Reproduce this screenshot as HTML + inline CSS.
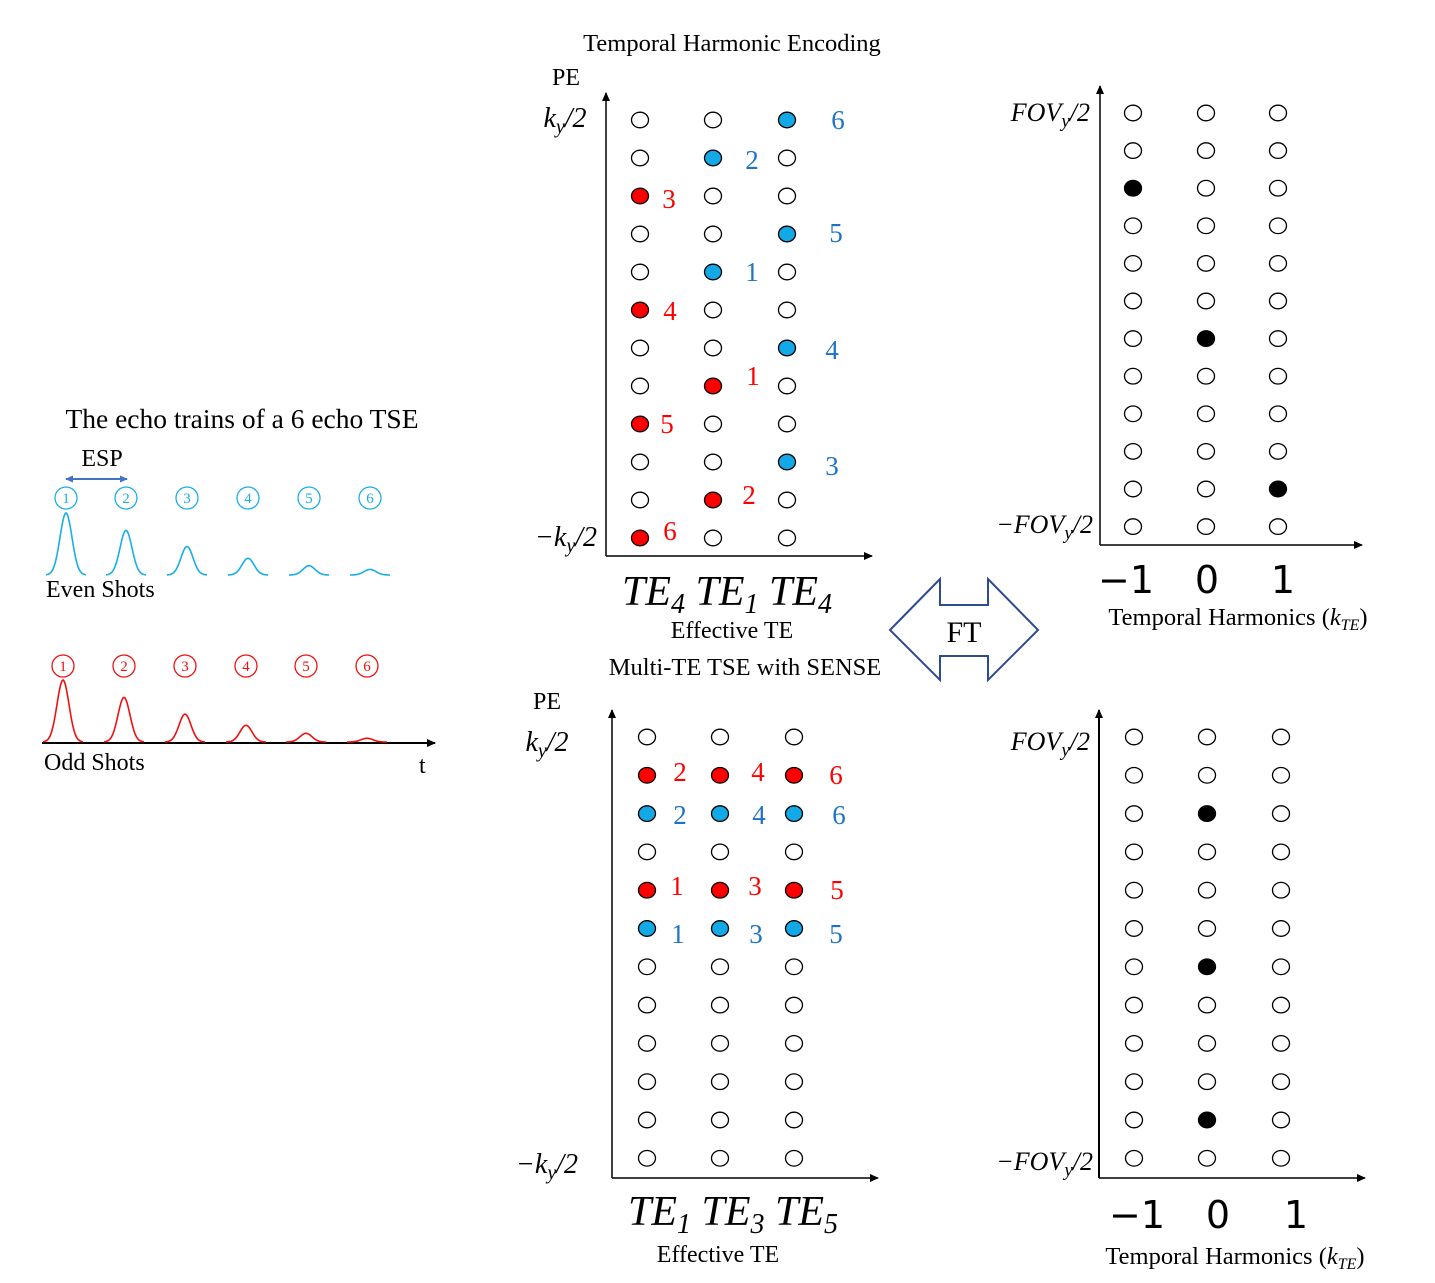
<!DOCTYPE html>
<html><head><meta charset="utf-8"><style>
html,body{margin:0;padding:0;background:#fff;}
svg{display:block;font-family:"Liberation Serif",serif;}
.m{font-family:"Liberation Serif",serif;font-style:italic;}
</style></head><body>
<svg id="s" width="1435" height="1283" viewBox="0 0 1435 1283" xmlns="http://www.w3.org/2000/svg">
<defs><marker id="ah" markerUnits="userSpaceOnUse" markerWidth="9" markerHeight="8" refX="8" refY="4" orient="auto"><path d="M0,0L9,4L0,8z" fill="#000"/></marker>
<marker id="bh" markerUnits="userSpaceOnUse" markerWidth="8" markerHeight="7" refX="7" refY="3.5" orient="auto-start-reverse"><path d="M0,0L8,3.5L0,7z" fill="#4472c4"/></marker></defs>

<text x="242" y="428" font-size="27.5" text-anchor="middle">The echo trains of a 6 echo TSE</text>
<text x="102" y="466" font-size="24" text-anchor="middle">ESP</text>
<line x1="66" y1="479" x2="127" y2="479" stroke="#4472c4" stroke-width="2" marker-start="url(#bh)" marker-end="url(#bh)"/>
<text x="46" y="597" font-size="24">Even Shots</text>
<text x="44" y="770" font-size="24">Odd Shots</text>
<text x="419" y="773" font-size="24">t</text>
<line x1="42" y1="743" x2="435" y2="743" stroke="#000" stroke-width="2" marker-end="url(#ah)"/>

<text x="732" y="51" font-size="24.5" text-anchor="middle">Temporal Harmonic Encoding</text>
<text x="566" y="85" font-size="24" text-anchor="middle">PE</text>
<text x="565" y="127" font-size="28" text-anchor="middle" class="m">k<tspan font-size="20" dy="6">y</tspan><tspan dy="-6">/2</tspan></text>
<text x="566" y="546" font-size="28" text-anchor="middle" class="m">−k<tspan font-size="20" dy="6">y</tspan><tspan dy="-6">/2</tspan></text>
<line x1="606" y1="556" x2="606" y2="93" stroke="#000" stroke-width="1.5" marker-end="url(#ah)"/>
<line x1="606" y1="556" x2="872" y2="556" stroke="#000" stroke-width="1.5" marker-end="url(#ah)"/>
<text x="727" y="605" font-size="42" text-anchor="middle" class="m">TE<tspan font-size="28" dy="8">4</tspan><tspan dy="-8"> TE</tspan><tspan font-size="28" dy="8">1</tspan><tspan dy="-8"> TE</tspan><tspan font-size="28" dy="8">4</tspan></text>
<text x="732" y="638" font-size="24" text-anchor="middle">Effective TE</text>
<text x="745" y="675" font-size="24.5" text-anchor="middle">Multi-TE TSE with SENSE</text>

<text x="547" y="709" font-size="24" text-anchor="middle">PE</text>
<text x="547" y="751" font-size="28" text-anchor="middle" class="m">k<tspan font-size="20" dy="6">y</tspan><tspan dy="-6">/2</tspan></text>
<text x="547" y="1173" font-size="28" text-anchor="middle" class="m">−k<tspan font-size="20" dy="6">y</tspan><tspan dy="-6">/2</tspan></text>
<line x1="612" y1="1178" x2="612" y2="710" stroke="#000" stroke-width="1.5" marker-end="url(#ah)"/>
<line x1="612" y1="1178" x2="878" y2="1178" stroke="#000" stroke-width="1.5" marker-end="url(#ah)"/>
<text x="733" y="1225" font-size="42" text-anchor="middle" class="m">TE<tspan font-size="28" dy="8">1</tspan><tspan dy="-8"> TE</tspan><tspan font-size="28" dy="8">3</tspan><tspan dy="-8"> TE</tspan><tspan font-size="28" dy="8">5</tspan></text>
<text x="718" y="1262" font-size="24" text-anchor="middle">Effective TE</text>

<polygon points="890,630 940,579 940,605 988,605 988,579 1038,630 988,680 988,656 940,656 940,680" fill="#fff" stroke="#2f4b8f" stroke-width="2"/>
<text x="964" y="642" font-size="30" text-anchor="middle">FT</text>

<text x="1090" y="121" font-size="26" text-anchor="end" class="m">FOV<tspan font-size="19" dy="6">y</tspan><tspan dy="-6">/2</tspan></text>
<text x="1093" y="533" font-size="26" text-anchor="end" class="m">−FOV<tspan font-size="19" dy="6">y</tspan><tspan dy="-6">/2</tspan></text>
<line x1="1100" y1="545" x2="1100" y2="86" stroke="#000" stroke-width="1.5" marker-end="url(#ah)"/>
<line x1="1100" y1="545" x2="1362" y2="545" stroke="#000" stroke-width="1.5" marker-end="url(#ah)"/>
<text x="1238" y="625" font-size="24.5" text-anchor="middle">Temporal Harmonics (<tspan class="m">k</tspan><tspan class="m" font-size="16" dy="5">TE</tspan><tspan dy="-5">)</tspan></text>

<text x="1090" y="750" font-size="26" text-anchor="end" class="m">FOV<tspan font-size="19" dy="6">y</tspan><tspan dy="-6">/2</tspan></text>
<text x="1093" y="1170" font-size="26" text-anchor="end" class="m">−FOV<tspan font-size="19" dy="6">y</tspan><tspan dy="-6">/2</tspan></text>
<line x1="1099" y1="1178" x2="1099" y2="710" stroke="#000" stroke-width="2" marker-end="url(#ah)"/>
<line x1="1099" y1="1178" x2="1365" y2="1178" stroke="#000" stroke-width="1.5" marker-end="url(#ah)"/>
<text x="1235" y="1264" font-size="24.5" text-anchor="middle">Temporal Harmonics (<tspan class="m">k</tspan><tspan class="m" font-size="16" dy="5">TE</tspan><tspan dy="-5">)</tspan></text>
</svg>
<script>
const NS='http://www.w3.org/2000/svg';
const svg=document.getElementById('s');
const RED='#ff0000', CY='#12a9e6', BL='#1f73c4';
// echo amplitudes (relative)
const evenAmps=[1.0,0.72,0.46,0.27,0.15,0.09];
const oddAmps=[1.0,0.72,0.45,0.27,0.14,0.06];
const echoNums=[1,2,3,4,5,6];
// top k-space grid: fill codes per column (r=red, c=cyan, ''=empty), rows top->bottom
const topCol0=['','','r','','','r','','','r','','','r'];
const topCol1=['','c','','','c','','','r','','','r',''];
const topCol2=['c','','','c','','','c','','','c','',''];
const topLabels=[['6',838,120,BL],['2',752,160,BL],['5',836,233,BL],['1',752,272,BL],['4',832,350,BL],['3',832,466,BL],['3',669,199,RED],['4',670,311,RED],['1',753,376,RED],['5',667,424,RED],['2',749,495,RED],['6',670,531,RED]];
// bottom grid
const botCol0=['','r','c','','r','c','','','','','',''];
const botCol1=['','r','c','','r','c','','','','','',''];
const botCol2=['','r','c','','r','c','','','','','',''];
const botLabels=[['2',680,772,RED],['4',758,772,RED],['6',836,775,RED],['2',680,815,BL],['4',759,815,BL],['6',839,815,BL],['1',677,886,RED],['3',755,886,RED],['5',837,890,RED],['1',678,934,BL],['3',756,934,BL],['5',836,934,BL]];
// harmonic grids: filled [row, col]
const harmTopFilled=[[2,0],[6,1],[10,2]];
const harmBotFilled=[[2,1],[6,1],[10,1]];
const harmTicks=['−1','0','1'];

function el(t,a,parent){const e=document.createElementNS(NS,t);for(const k in a)e.setAttribute(k,a[k]);(parent||svg).appendChild(e);return e;}

function pulses(xs,base,amps,col,cy,name){
  xs.forEach((x,i)=>{
    const h=62*amps[i];let d='';
    for(let t=-20;t<=20;t+=1){const y=base-h*Math.exp(-(t*t)/(2*6*6));d+=(t==-20?'M':'L')+(x+t)+','+y.toFixed(1);}
    const p=el('path',{d:d,fill:'none',stroke:col,'stroke-width':1.6});
    
    
    const c=el('circle',{cx:x,cy:cy,r:11,fill:'none',stroke:col,'stroke-width':1.3});
    
    
    const tx=el('text',{x:x,y:cy+5,'font-size':15,'text-anchor':'middle',fill:col});
    tx.textContent=echoNums[i];
    
    
  });
}
pulses([66,126,187,248,309,370],575,evenAmps,'#19aee8',498,'even-shot');
pulses([63,124,185,246,306,367],742,oddAmps,'#ee1111',666,'odd-shot');

function grid(cols,xs,y0,dy,name){
  cols.forEach((col,ci)=>col.forEach((f,ri)=>{
    const fill=f==='r'?RED:f==='c'?CY:f==='k'?'#000':'#fff';
    const e=el('ellipse',{cx:xs[ci],cy:y0+ri*dy,rx:8.5,ry:7.8,fill:fill,stroke:'#000','stroke-width':1.3});
    
    
  }));
}
function labels(arr,name){arr.forEach(l=>{const t=el('text',{x:l[1],y:l[2]+9,'font-size':27,'text-anchor':'middle',fill:l[3]});t.textContent=l[0];
  
  });}
grid([topCol0,topCol1,topCol2],[640,713,787],120,38.0,'top-kspace');
labels(topLabels,'top-kspace');
grid([botCol0,botCol1,botCol2],[647,720,794],737,38.3,'bottom-kspace');
labels(botLabels,'bottom-kspace');

function harm(filled,xs,y0,dy,tickY,tickXs,name){
  const cols=[0,1,2].map(()=>Array(12).fill(''));
  filled.forEach(([r,c])=>cols[c][r]='k');
  grid(cols,xs,y0,dy,name);
  harmTicks.forEach((t,i)=>{const e=el('text',{x:tickXs[i],y:tickY,'font-size':38,'text-anchor':'middle','font-family':'DejaVu Sans, sans-serif'});e.textContent=t;
    
    });
}
harm(harmTopFilled,[1133,1206,1278],113,37.6,593,[1126,1207,1283],'top-harmonics');
harm(harmBotFilled,[1134,1207,1281],737,38.3,1228,[1137,1218,1296],'bottom-harmonics');
</script>
</body></html>
